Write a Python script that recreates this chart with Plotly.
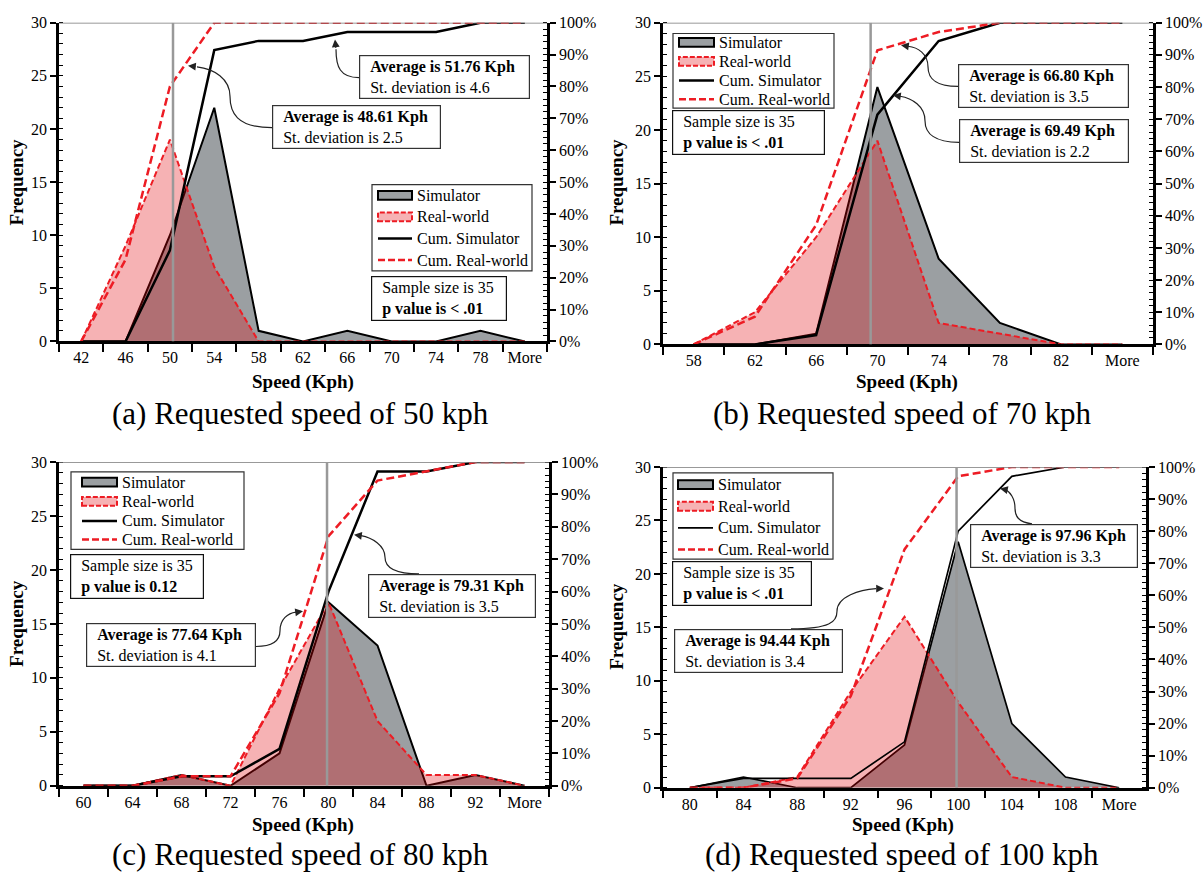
import plotly.graph_objects as go

W, H = 1203, 884
FONT = "Liberation Serif"
GREY_FILL = "rgb(155,159,162)"
PINK_FILL = "rgba(225,0,5,0.30)"
RED = "rgb(237,28,36)"

# ---------------- data ----------------
cats_a = ["42", "46", "50", "54", "58", "62", "66", "70", "74", "78", "More"]
sim_a = [0, 0, 10, 22, 1, 0, 1, 0, 0, 1, 0]
real_a = [0, 9, 19, 7, 0, 0, 0, 0, 0, 0, 0]
cum_sim_a = [0, 0, 28.6, 91.4, 94.3, 94.3, 97.1, 97.1, 97.1, 100, 100]
cum_real_a = [0, 25.7, 80.0, 100, 100, 100, 100, 100, 100, 100, 100]

cats_b = ["58", "62", "66", "70", "74", "78", "82", "More"]
sim_b = [0, 0, 1, 24, 8, 2, 0, 0]
real_b = [0, 3, 10, 19, 2, 1, 0, 0]
cum_sim_b = [0, 0, 2.9, 71.4, 94.3, 100, 100, 100]
cum_real_b = [0, 8.6, 37.1, 91.4, 97.1, 100, 100, 100]

cats_c = ["60", "64", "68", "72", "76", "80", "84", "88", "92", "More"]
sim_c = [0, 0, 1, 0, 3, 17, 13, 0, 1, 0]
real_c = [0, 0, 1, 0, 9, 17, 6, 1, 1, 0]
cum_sim_c = [0, 0, 2.9, 2.9, 11.4, 60.0, 97.1, 97.1, 100, 100]
cum_real_c = [0, 0, 2.9, 2.9, 28.6, 77.1, 94.3, 97.1, 100, 100]

cats_d = ["80", "84", "88", "92", "96", "100", "104", "108", "More"]
sim_d = [0, 1, 0, 0, 4, 23, 6, 1, 0]
real_d = [0, 0, 1, 9, 16, 8, 1, 0, 0]
cum_sim_d = [0, 2.9, 2.9, 2.9, 14.3, 80.0, 97.1, 100, 100]
cum_real_d = [0, 0, 2.9, 28.6, 74.3, 97.1, 100, 100, 100]

captions = ["(a) Requested speed of 50 kph", "(b) Requested speed of 70 kph",
            "(c) Requested speed of 80 kph", "(d) Requested speed of 100 kph"]
requested_pos = [2.07, 2.89, 4.97, 4.97]  # requested-speed marker (category index)

stats_a = [("Average is 51.76 Kph", "St. deviation is 4.6"), ("Average is 48.61 Kph", "St. deviation is 2.5")]
stats_b = [("Average is 66.80 Kph", "St. deviation is 3.5"), ("Average is 69.49 Kph", "St. deviation is 2.2")]
stats_c = [("Average is 79.31 Kph", "St. deviation is 3.5"), ("Average is 77.64 Kph", "St. deviation is 4.1")]
stats_d = [("Average is 97.96 Kph", "St. deviation is 3.3"), ("Average is 94.44 Kph", "St. deviation is 3.4")]
pvals = ["p value is < .01", "p value is < .01", "p value is 0.12", "p value is < .01"]
legend_names = ["Simulator", "Real-world", "Cum. Simulator", "Cum. Real-world"]

# ---------------- layout geometry (pixels) ----------------
panels = [
    dict(cats=cats_a, sim=sim_a, real=real_a, cs=cum_sim_a, cr=cum_real_a, stats=stats_a,
         plot=(59, 15, 547, 340), blw=2.5,
         legend=dict(box=(372, 180, 532, 268), sym=(378, 412), tx=416, ys=(191, 213, 235, 257)),
         boxes=[(359, 48, 530, 95), (272, 99, 441, 146)], sample=(371, 273, 507, 320),
         cap=(300, 413), xt=(303, 381), yt=(17, 178),
         arrows=[[(359, 71), (340, 71), (336, 60), (336, 42), (335, 32)],
                 [(272, 122), (236, 122), (230, 106), (230, 90), (188, 59)]],
         arrows2=[None, [(230, 90), (230, 72), (214, 62), (197, 60)]]),
    dict(cats=cats_b, sim=sim_b, real=real_b, cs=cum_sim_b, cr=cum_real_b, stats=stats_b,
         plot=(663, 15, 1153, 343), blw=2.5,
         legend=dict(box=(673, 26, 834, 102), sym=(679, 714), tx=718, ys=(35, 54.5, 74, 93)),
         boxes=[(958, 57, 1129, 103), (959, 113, 1129, 161)], sample=(672, 104, 825, 151),
         cap=(902, 413), xt=(907, 381), yt=(617, 178),
         arrows=[[(958, 80), (935, 80), (928, 72), (928, 60), (901, 38)],
                 [(959, 137), (935, 137), (925, 128), (925, 115), (893, 89)]],
         arrows2=[[(928, 60), (928, 47), (918, 40), (908, 39)],
                  [(925, 115), (925, 100), (912, 92), (900, 90)]]),
    dict(cats=cats_c, sim=sim_c, real=real_c, cs=cum_sim_c, cr=cum_real_c, stats=stats_c,
         plot=(59, 463, 549, 793), blw=2.5,
         legend=dict(box=(71, 473, 244, 552), sym=(82, 117), tx=121, ys=(483.5, 503, 523, 542)),
         boxes=[(368, 577, 536, 623), (86, 627, 256, 674)], sample=(70, 557, 204, 603),
         cap=(300, 863), xt=(303, 833), yt=(17, 628),
         arrows=[[(419, 577), (395, 577), (385, 570), (385, 560), (354, 537)],
                 [(256, 651), (272, 651), (280, 645), (280, 635), (303, 615)]],
         arrows2=[[(385, 560), (385, 548), (372, 540), (361, 538)],
                  [(280, 635), (280, 623), (288, 617), (296, 616)]]),
    dict(cats=cats_d, sim=sim_d, real=real_d, cs=cum_sim_d, cr=cum_real_d, stats=stats_d,
         plot=(663, 468, 1146, 795), blw=1.7,
         legend=dict(box=(673, 474, 833, 562), sym=(678, 713), tx=717, ys=(486, 508, 530, 552)),
         boxes=[(970, 526, 1138, 573), (674, 633, 843, 679)], sample=(672, 564, 812, 611),
         cap=(902, 863), xt=(903, 833), yt=(617, 631),
         arrows=[[(1032, 526), (1018, 524), (1015, 518), (1015, 510), (1000, 490)],
                 [(791, 633), (830, 633), (837, 626), (837, 615), (884, 592)]],
         arrows2=[[(1015, 510), (1015, 500), (1010, 493), (1005, 491)],
                  [(837, 615), (837, 600), (860, 593), (876, 592)]]),
]


def px(x):
    return x / W


def py(y):
    return 1 - y / H


fig = go.Figure()
layout = dict(width=W, height=H, margin=dict(l=0, r=0, t=0, b=0),
              paper_bgcolor="white", plot_bgcolor="rgba(0,0,0,0)",
              font=dict(family=FONT, size=16, color="black"), showlegend=False)
shapes, annotations = [], []
TXT = 16
PAD = 2
BW = 1.2

for i, p in enumerate(panels):
    n = i + 1
    xa = "x" if n == 1 else f"x{n}"
    ya = "y" if n == 1 else f"y{2*n-1}"
    yb = f"y{2*n}"
    l, t, r, b = p["plot"]
    cats = p["cats"]
    blw = p["blw"]

    fig.add_trace(go.Scatter(x=cats, y=p["sim"], mode="lines", fill="tozeroy", fillcolor=GREY_FILL,
                             line=dict(color="black", width=min(2, blw)), name=legend_names[0],
                             xaxis=xa, yaxis=ya))
    fig.add_trace(go.Scatter(x=cats, y=p["real"], mode="lines", fill="tozeroy", fillcolor=PINK_FILL,
                             line=dict(color=RED, width=2, dash="6px,3px"), name=legend_names[1],
                             xaxis=xa, yaxis=ya))
    fig.add_trace(go.Scatter(x=cats, y=[v / 100 for v in p["cs"]], mode="lines",
                             line=dict(color="black", width=blw), name=legend_names[2],
                             xaxis=xa, yaxis=yb))
    fig.add_trace(go.Scatter(x=cats, y=[v / 100 for v in p["cr"]], mode="lines",
                             line=dict(color=RED, width=2.5, dash="8px,4px"), name=legend_names[3],
                             xaxis=xa, yaxis=yb))

    xkey = "xaxis" if n == 1 else f"xaxis{n}"
    ykey = "yaxis" if n == 1 else f"yaxis{2*n-1}"
    ykey2 = f"yaxis{2*n}"
    layout[xkey] = dict(type="category", domain=[px(l), px(r)], anchor=ya,
                        range=[-0.5, len(cats) - 0.5], showline=True, linewidth=2.5,
                        linecolor="black", ticks="outside", tickson="boundaries",
                        ticklen=8, tickwidth=1.5, tickcolor="black", showgrid=False,
                        zeroline=False, tickfont=dict(family=FONT, size=16))
    layout[ykey] = dict(domain=[py(b), py(t)], anchor=xa, range=[0, 30], dtick=5,
                        showline=True, linewidth=2.5, linecolor="black", ticks="outside",
                        ticklen=6, tickwidth=1.5, tickcolor="black", showgrid=False,
                        zeroline=False, tickfont=dict(family=FONT, size=16),
                        minor=dict(dtick=1, ticks="inside", ticklen=4, tickwidth=1,
                                   tickcolor="black", showgrid=False))
    layout[ykey2] = dict(overlaying=ya, anchor=xa, side="right", range=[0, 1], dtick=0.1,
                         tickformat=".0%", showline=True, linewidth=2.5, linecolor="black",
                         ticks="outside", ticklen=6, tickwidth=1.5, tickcolor="black",
                         showgrid=False, zeroline=False, tickfont=dict(family=FONT, size=16),
                         minor=dict(dtick=0.02, ticks="inside", ticklen=4, tickwidth=1,
                                    tickcolor="black", showgrid=False))

    # top frame line
    shapes.append(dict(type="line", xref=f"{xa} domain", yref=ya, x0=0, x1=1, y0=30, y1=30,
                       line=dict(color="#777", width=1.5), layer="above"))
    # requested speed marker
    shapes.append(dict(type="line", xref=xa, yref=ya, x0=requested_pos[i], x1=requested_pos[i],
                       y0=0, y1=30, line=dict(color="#999", width=2.5), layer="above"))

    # legend box (drawn manually for exact spacing)
    lgd = p["legend"]
    bx0, by0, bx1, by1 = lgd["box"]
    shapes.append(dict(type="rect", xref="paper", yref="paper", x0=px(bx0), x1=px(bx1),
                       y0=py(by1), y1=py(by0), fillcolor="white",
                       line=dict(color="#333", width=1.2), layer="above"))
    s0, s1 = lgd["sym"]
    ysym = lgd["ys"]
    shapes.append(dict(type="rect", xref="paper", yref="paper", x0=px(s0), x1=px(s1),
                       y0=py(ysym[0] + 4.5), y1=py(ysym[0] - 4.5), fillcolor=GREY_FILL,
                       line=dict(color="black", width=2), layer="above"))
    shapes.append(dict(type="rect", xref="paper", yref="paper", x0=px(s0), x1=px(s1),
                       y0=py(ysym[1] + 4.5), y1=py(ysym[1] - 4.5), fillcolor=PINK_FILL,
                       line=dict(color=RED, width=2, dash="5px,2px"), layer="above"))
    shapes.append(dict(type="line", xref="paper", yref="paper", x0=px(s0), x1=px(s1),
                       y0=py(ysym[2]), y1=py(ysym[2]),
                       line=dict(color="black", width=blw), layer="above"))
    shapes.append(dict(type="line", xref="paper", yref="paper", x0=px(s0), x1=px(s1),
                       y0=py(ysym[3]), y1=py(ysym[3]),
                       line=dict(color=RED, width=2.5, dash="7px,3px"), layer="above"))
    for name, yy in zip(legend_names, ysym):
        annotations.append(dict(x=px(lgd["tx"]), y=py(yy), xref="paper", yref="paper",
                                xanchor="left", yanchor="middle", showarrow=False, text=name,
                                borderpad=0, font=dict(family=FONT, size=16)))

    def box(x0, y0, x1, text, border):
        return dict(x=px(x0), y=py(y0), xref="paper", yref="paper",
                    xanchor="left", yanchor="top", showarrow=False,
                    text=text, align="left", width=x1 - x0 - 2 * PAD - 2 * BW,
                    borderpad=PAD, bordercolor=border, borderwidth=BW,
                    bgcolor="white", font=dict(family=FONT, size=TXT))

    for (qx0, qy0, qx1, qy1), (l1, l2) in zip(p["boxes"], p["stats"]):
        annotations.append(box(qx0, qy0, qx1, f"&nbsp;&nbsp;<b>{l1}</b><br>&nbsp;&nbsp;{l2}", "#333"))
    sx0, sy0, sx1, sy1 = p["sample"]
    annotations.append(box(sx0, sy0, sx1, f"&nbsp;&nbsp;Sample size is 35<br>&nbsp;&nbsp;<b>{pvals[i]}</b>", "#111"))

    # curved callout arrows
    for arr, arr2 in zip(p["arrows"], p["arrows2"]):
        s, c1, c2, e, head = arr
        path = (f"M {px(s[0])},{py(s[1])} C {px(c1[0])},{py(c1[1])} "
                f"{px(c2[0])},{py(c2[1])} {px(e[0])},{py(e[1])}")
        tail = e
        if arr2 is not None:
            _, d1, d2, f = arr2
            path += f" C {px(d1[0])},{py(d1[1])} {px(d2[0])},{py(d2[1])} {px(f[0])},{py(f[1])}"
            tail = f
        shapes.append(dict(type="path", xref="paper", yref="paper", path=path,
                           line=dict(color="#222", width=1.2), layer="above"))
        annotations.append(dict(x=px(head[0]), y=py(head[1]), xref="paper", yref="paper",
                                ax=tail[0] - head[0], ay=tail[1] - head[1], axref="pixel",
                                ayref="pixel", showarrow=True, arrowhead=2, arrowsize=1.3,
                                arrowwidth=1.2, arrowcolor="#222", text=""))

    # axis titles and caption
    annotations.append(dict(x=px(p["xt"][0]), y=py(p["xt"][1]), xref="paper", yref="paper",
                            xanchor="center", yanchor="middle",
                            text="<b>Speed (Kph)</b>", showarrow=False,
                            font=dict(family=FONT, size=19)))
    annotations.append(dict(x=px(p["yt"][0]), y=py(p["yt"][1]), xref="paper", yref="paper",
                            xanchor="center", yanchor="middle",
                            text="<b>Frequency</b>", textangle=-90, showarrow=False,
                            font=dict(family=FONT, size=19)))
    annotations.append(dict(x=px(p["cap"][0]), y=py(p["cap"][1]), xref="paper", yref="paper",
                            xanchor="center", yanchor="middle",
                            text=captions[i], showarrow=False,
                            font=dict(family=FONT, size=31)))

layout["shapes"] = shapes
layout["annotations"] = annotations
fig.update_layout(**layout)
fig.write_html("out.html", config={"displayModeBar": False},
               post_script="document.body.style.margin='0';document.body.style.padding='0';"
                           "document.body.style.overflow='hidden';")
